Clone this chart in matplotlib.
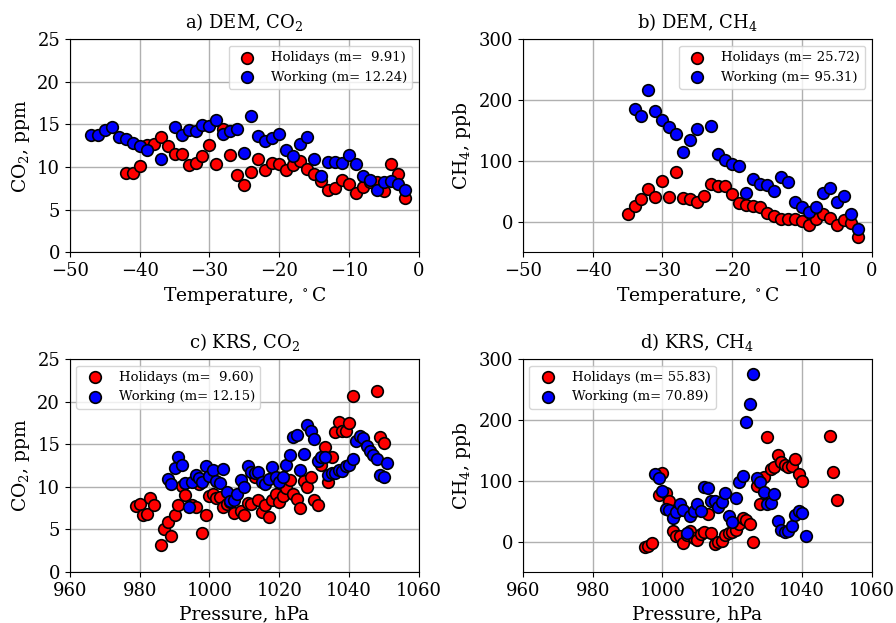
import numpy as np
import matplotlib
matplotlib.use("Agg")
import matplotlib.pyplot as plt

plt.rcParams['font.family'] = 'serif'
plt.rcParams['font.serif'] = ['DejaVu Serif']
plt.rcParams['mathtext.fontset'] = 'dejavuserif'

#------------------------------- Data ------------------------------------------

# a) DEM, CO2 vs temperature
a_hol_t = [-42, -41, -40, -39, -38, -37, -36, -35, -34, -33, -32, -31, -30, -29,
           -28, -27, -26, -25, -24, -23, -22, -21, -20, -19, -18, -17, -16, -15,
           -14, -13, -12, -11, -10, -9, -8, -7, -6, -5, -4, -3, -2]
a_hol_v = [9.3, 9.3, 10.1, 12.6, 12.7, 13.5, 12.5, 11.5, 11.5, 10.2, 10.5, 11.3,
           12.6, 10.3, 14.5, 11.4, 9.1, 7.9, 9.4, 10.9, 9.6, 10.5, 10.4, 9.6,
           10.2, 10.7, 9.8, 9.2, 8.4, 7.3, 7.5, 8.5, 8.0, 6.9, 7.7, 8.2, 8.2,
           7.2, 10.4, 9.2, 6.4]
a_wrk_t = [-47, -46, -45, -44, -43, -42, -41, -40, -39, -37, -35, -34, -33, -32,
           -31, -30, -29, -28, -27, -26, -25, -24, -23, -22, -21, -20, -19, -18,
           -17, -16, -15, -14, -13, -12, -11, -10, -9, -8, -7, -6, -5, -4, -3, -2]
a_wrk_v = [13.7, 13.7, 14.4, 14.7, 13.5, 13.3, 12.8, 12.5, 12.0, 10.9, 14.7, 13.8,
           14.3, 14.2, 14.9, 14.8, 15.5, 13.9, 14.2, 14.5, 11.6, 16.0, 13.6, 13.1,
           13.4, 13.9, 12.0, 11.3, 12.7, 13.5, 10.9, 8.9, 10.6, 10.6, 10.5, 11.4,
           10.4, 9.0, 8.5, 7.3, 8.2, 8.4, 8.0, 7.3]

# b) DEM, CH4 vs temperature
b_hol_t = list(range(-35, -1))
b_hol_v = [13, 26, 37, 54, 40, 67, 40, 82, 39, 38, 33, 43, 62, 59, 59, 45, 31,
           28, 26, 25, 15, 10, 4, 5, 4, 2, -6, 4, 12, 6, -6, 3, -2, -25]
b_wrk_t = [-34, -33, -32, -31, -30, -29, -28, -27, -26, -25, -23, -22, -21, -20,
           -19, -18, -17, -16, -15, -14, -13, -12, -11, -10, -9, -8, -7, -6, -5,
           -4, -3, -2]
b_wrk_v = [185, 173, 217, 182, 167, 155, 144, 114, 135, 153, 158, 111, 101, 95,
           91, 48, 71, 62, 61, 51, 74, 66, 33, 25, 16, 25, 47, 55, 33, 42, 13, -12]

# c) KRS, CO2 vs pressure
c_hol_p = [979, 980, 981, 982, 983, 984, 986, 987, 988, 989, 990, 991, 992, 993,
           995, 996, 997, 998, 999, 1000, 1001, 1002, 1003, 1004, 1005, 1006,
           1007, 1009, 1010, 1011, 1012, 1013, 1014, 1015, 1016, 1017, 1018,
           1019, 1020, 1021, 1022, 1023, 1024, 1025, 1026, 1027, 1028, 1029,
           1030, 1031, 1032, 1033, 1034, 1035, 1036, 1037, 1038, 1039, 1040,
           1041, 1048, 1049, 1050]
c_hol_v = [7.7, 8.0, 6.7, 6.8, 8.7, 7.8, 3.2, 5.0, 5.9, 4.2, 6.7, 7.8, 10.1, 9.0,
           7.8, 7.6, 10.3, 4.6, 6.7, 8.9, 9.1, 8.7, 8.8, 7.6, 8.0, 8.2, 6.9, 7.2,
           6.7, 8.1, 8.0, 11.1, 8.4, 7.0, 7.8, 6.4, 8.4, 9.2, 8.2, 8.9, 9.8, 10.8,
           9.2, 8.6, 7.5, 10.7, 10.0, 11.2, 8.5, 7.9, 12.5, 14.7, 10.5, 13.5,
           16.4, 17.6, 16.6, 16.6, 17.5, 20.7, 21.2, 15.8, 15.1]
c_wrk_p = [988, 989, 990, 991, 992, 993, 994, 995, 996, 997, 998, 999, 1000,
           1001, 1002, 1003, 1004, 1005, 1006, 1007, 1008, 1009, 1010, 1011, 1012,
           1013, 1014, 1015, 1016, 1017, 1018, 1019, 1020, 1021, 1022, 1023, 1024,
           1025, 1026, 1027, 1028, 1029, 1030, 1031, 1032, 1033, 1034, 1035, 1036,
           1037, 1038, 1039, 1040, 1041, 1042, 1043, 1044, 1045, 1046, 1047, 1048,
           1049, 1050, 1051]
c_wrk_v = [10.9, 10.3, 12.2, 13.5, 12.6, 10.4, 7.6, 10.5, 11.4, 11.0, 10.6, 12.4,
           11.3, 12.0, 10.7, 10.4, 12.1, 9.4, 8.3, 8.4, 9.1, 10.8, 10.0, 12.4, 11.7,
           11.6, 11.7, 10.5, 10.3, 10.9, 12.3, 11.2, 10.5, 11.2, 12.6, 13.7, 15.9,
           16.1, 12.0, 13.9, 17.3, 16.5, 15.6, 13.0, 13.5, 13.5, 11.4, 11.6, 11.6,
           12.0, 11.8, 12.4, 12.5, 13.3, 15.4, 16.0, 15.7, 14.8, 14.2, 13.7, 13.3,
           11.4, 11.1, 12.8]

# d) KRS, CH4 vs pressure
d_hol_p = [995, 996, 997, 999, 1000, 1001, 1002, 1003, 1004, 1005, 1006, 1007,
           1008, 1009, 1010, 1011, 1012, 1013, 1014, 1015, 1016, 1017, 1018, 1019,
           1020, 1021, 1022, 1023, 1024, 1025, 1026, 1027, 1028, 1029, 1030, 1031,
           1032, 1033, 1034, 1035, 1036, 1037, 1038, 1039, 1040, 1048, 1049, 1050]
d_hol_v = [-9, -7, -3, 76, 113, 79, 67, 17, 9, 9, -2, 10, 17, 5, 3, 12, 15, 45,
           14, -4, -1, 1, 10, 14, 15, 19, 29, 39, 35, 28, 0, 92, 61, 106, 172, 120,
           122, 142, 131, 125, 123, 124, 136, 111, 99, 173, 114, 68]
d_wrk_p = [998, 999, 1000, 1001, 1002, 1003, 1004, 1005, 1006, 1007, 1008, 1009,
           1010, 1011, 1012, 1013, 1014, 1015, 1016, 1017, 1018, 1019, 1020, 1021,
           1022, 1023, 1024, 1025, 1026, 1027, 1028, 1029, 1030, 1031, 1032, 1033,
           1034, 1035, 1036, 1037, 1038, 1039, 1040, 1041]
d_wrk_v = [111, 105, 83, 53, 52, 39, 49, 61, 52, 14, 42, 50, 61, 50, 89, 88, 66,
           66, 57, 65, 80, 42, 32, 72, 98, 108, 197, 226, 276, 105, 97, 81, 61, 63,
           78, 34, 19, 16, 17, 26, 44, 50, 47, 9]

#------------------------------- Plot ------------------------------------------

fig, axs = plt.subplots(2, 2, figsize=(8.96, 6.23), dpi=100)
fig.subplots_adjust(left=0.078, right=0.973, top=0.937, bottom=0.082,
                    wspace=0.298, hspace=0.502)

panels = [
    (axs[0, 0], a_hol_t, a_hol_v, a_wrk_t, a_wrk_v, 'a) DEM, CO$_2$',
     'Temperature, $^\\circ$C', 'CO$_2$, ppm', (-50, 0), (0, 25),
     ' 9.91', '12.24', 'upper right'),
    (axs[0, 1], b_hol_t, b_hol_v, b_wrk_t, b_wrk_v, 'b) DEM, CH$_4$',
     'Temperature, $^\\circ$C', 'CH$_4$, ppb', (-50, 0), (-50, 300),
     '25.72', '95.31', 'upper right'),
    (axs[1, 0], c_hol_p, c_hol_v, c_wrk_p, c_wrk_v, 'c) KRS, CO$_2$',
     'Pressure, hPa', 'CO$_2$, ppm', (960, 1060), (0, 25),
     ' 9.60', '12.15', 'upper left'),
    (axs[1, 1], d_hol_p, d_hol_v, d_wrk_p, d_wrk_v, 'd) KRS, CH$_4$',
     'Pressure, hPa', 'CH$_4$, ppb', (960, 1060), (-50, 300),
     '55.83', '70.89', 'upper left'),
]

for ax, hx, hy, wx, wy, title, xl, yl, xlim, ylim, mh, mw, loc in panels:
    ax.scatter(hx, hy, s=70, c='red', edgecolors='black', linewidths=1.2,
               label='Holidays (m= %s)' % mh, zorder=3)
    ax.scatter(wx, wy, s=70, c='blue', edgecolors='black', linewidths=1.2,
               label='Working (m= %s)' % mw, zorder=3)
    ax.set_xlim(xlim)
    ax.set_ylim(ylim)
    ax.set_title(title, fontsize=13, pad=8)
    ax.set_xlabel(xl, fontsize=13.5)
    ax.set_ylabel(yl, fontsize=13.5)
    ax.tick_params(labelsize=13)
    ax.grid(True, color='#b0b0b0', linewidth=1)
    ax.set_axisbelow(True)
    ax.legend(loc=loc, fontsize=9.5, scatterpoints=1)

fig.savefig('out.png', dpi=100)
